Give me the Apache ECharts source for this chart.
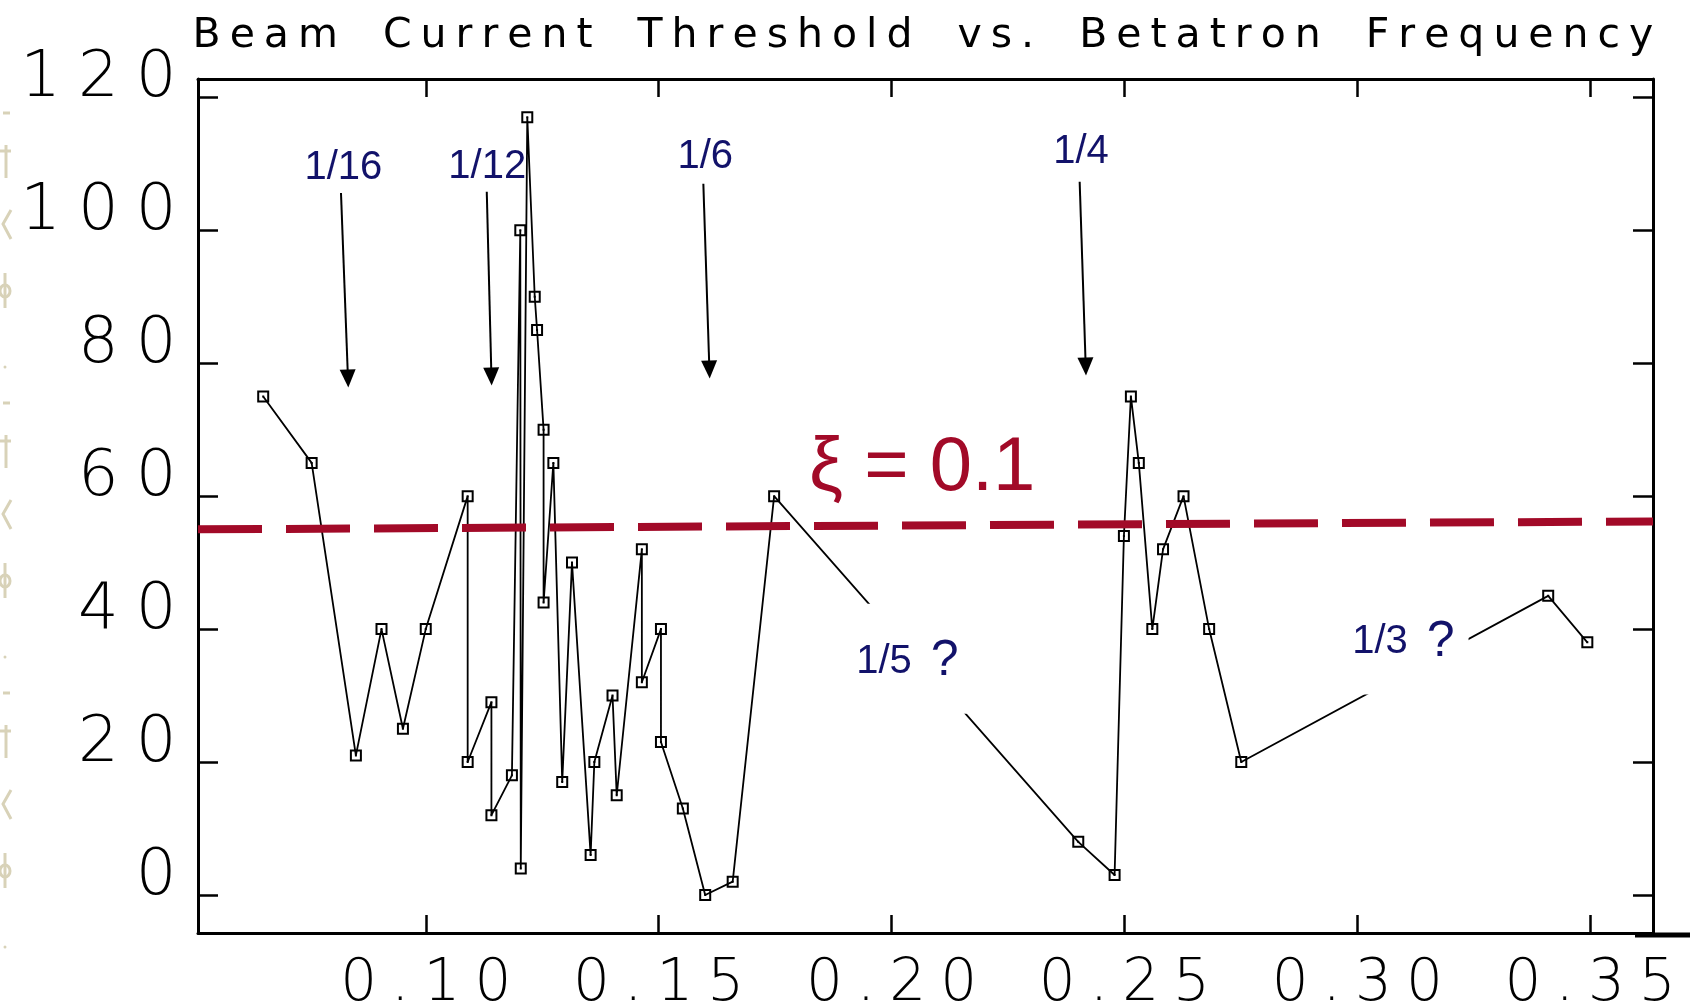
<!DOCTYPE html>
<html>
<head>
<meta charset="utf-8">
<script src="https://cdn.jsdelivr.net/npm/echarts@6/dist/echarts.min.js"></script>
<style>
  html, body { margin: 0; padding: 0; background: #ffffff; }
  #chart { width: 1690px; height: 1008px; }
</style>
</head>
<body>
<div id="chart"></div>
<script>
// Betatron frequency (tune) of each measurement, in scan order
const tune = [
  0.0651, 0.0755, 0.0850, 0.0905, 0.0951, 0.1000, 0.1090, 0.1090, 0.1141, 0.1141,
  0.1185, 0.1203, 0.1204, 0.1218, 0.1234, 0.1239, 0.1253, 0.1253, 0.1274, 0.1293,
  0.1314, 0.1354, 0.1362, 0.1401, 0.1410, 0.1464, 0.1464, 0.1505, 0.1505, 0.1552,
  0.1600, 0.1659, 0.1748, 0.2401, 0.2479, 0.2499, 0.2514, 0.2531, 0.2560, 0.2583,
  0.2627, 0.2682, 0.2751, 0.3410, 0.3494
];
// Beam current threshold measured at each tune
const threshold = [
  75, 65, 21, 40, 25, 40, 60, 20, 29, 12,
  18, 100, 4, 117, 90, 85, 70, 44, 65, 17,
  50, 6, 20, 30, 15, 52, 32, 40, 23, 13,
  0, 2, 60, 8, 3, 54, 75, 65, 40, 52,
  60, 40, 20, 45, 38
];

const xTicks = [0.10, 0.15, 0.20, 0.25, 0.30, 0.35];
const yTicks = [0, 20, 40, 60, 80, 100, 120];
const xRange = [0.0511, 0.3635];
const yRange = [-5.72, 122.75];

const titleText = 'Beam Current Threshold vs. Betatron Frequency';

// resonance labels with their arrows
const resonanceNames = ['1/16', '1/12', '1/6', '1/4'];
const resonanceLabelX = [0.0823, 0.1132, 0.1600, 0.2407];
const resonanceLabelY = [109.4, 109.5, 111.0, 111.8];
const arrowStartX = [0.0818, 0.1131, 0.1596, 0.2404];
const arrowStartY = [105.6, 105.8, 107.0, 107.3];
const arrowEndX = [0.0833, 0.1141, 0.1609, 0.2417];
const arrowEndY = [77.7, 78.0, 79.05, 79.5];

// uncertain resonances, written over the curve
const doubtfulNames = ['1/5', '1/3'];
const doubtfulX = [0.2034, 0.3099];
const doubtfulY = [35.55, 38.45];

// damping threshold line
const dampingText = 'ξ = 0.1';
const dampingLabelAt = [0.2066, 64.14];
const dampingLineY = [55.0, 56.2];

const ink = '#000000';
const navy = '#12126a';
const crimson = '#a20a28';
const beige = '#d8d2b8';
const plotFont = 'DejaVu Sans';
const slideFont = 'Liberation Sans, Arial, sans-serif';

// split a string into fixed-style fragments so the glyphs get extra spacing
function spaced(str, style) {
  return String(str).split('').map(function (ch) {
    return '{' + (ch === ' ' ? style + 'Gap' : style) + '|' + ch + '}';
  }).join('');
}

const squareDot = 'path://M0,0H12V12H0Z M2,2V10H10V2Z M5,5H7V7H5Z';

const points = tune.map(function (t, i) { return [t, threshold[i]]; });

const arrowLines = resonanceNames.map(function (n, i) {
  return [
    { coord: [arrowStartX[i], arrowStartY[i]], symbol: 'none',
      lineStyle: { color: ink, width: 2, type: 'solid' } },
    { coord: [arrowEndX[i], arrowEndY[i]], symbol: 'triangle', symbolSize: [16, 18] }
  ];
});
const dampingLine = [
  { coord: [xRange[0], dampingLineY[0]], symbol: 'none',
    lineStyle: { color: crimson, width: 8, type: [64, 24] } },
  { coord: [xRange[1], dampingLineY[1]], symbol: 'none' }
];

function frameAxis(pos, isX, withLabels) {
  const ticks = isX ? xTicks : yTicks;
  const range = isX ? xRange : yRange;
  const ax = {
    type: 'value',
    position: pos,
    min: range[0],
    max: range[1],
    splitLine: { show: false },
    axisLine: { show: true, onZero: false, lineStyle: { color: ink, width: 3 } },
    axisTick: { show: true, inside: true, length: isX ? 18 : 20, customValues: ticks,
      lineStyle: { color: ink, width: 2.5 } },
    axisLabel: { show: false }
  };
  if (withLabels) {
    ax.axisLabel = isX ? {
      show: true,
      customValues: ticks,
      margin: 23,
      formatter: function (v) { return spaced(v.toFixed(2), 'n'); },
      rich: { n: { fontFamily: plotFont, fontWeight: 200, fontSize: 58, lineHeight: 58,
        color: ink, padding: [0, 7] } }
    } : {
      show: true,
      customValues: ticks,
      margin: 13,
      verticalAlign: 'bottom',
      formatter: function (v) { return spaced(String(v), 'n'); },
      rich: { n: { fontFamily: plotFont, fontWeight: 200, fontSize: 64, lineHeight: 35,
        color: ink, padding: [0, 8.5] } }
    };
  }
  return ax;
}

// faint ornament running down the left edge of the slide
function edgeOrnament() {
  const parts = [];
  const st = { stroke: beige, lineWidth: 3, fill: null };
  for (let base = 110; base < 960; base += 290) {
    parts.push({ type: 'line', silent: true, shape: { x1: 3, y1: base + 3, x2: 10, y2: base + 3 }, style: st });
    parts.push({ type: 'line', silent: true, shape: { x1: 6, y1: base + 35, x2: 6, y2: base + 68 }, style: st });
    parts.push({ type: 'line', silent: true, shape: { x1: 0, y1: base + 41, x2: 11, y2: base + 41 }, style: st });
    parts.push({ type: 'polyline', silent: true,
      shape: { points: [[11, base + 100], [3, base + 114], [11, base + 129]] }, style: st });
    parts.push({ type: 'line', silent: true, shape: { x1: 5, y1: base + 163, x2: 5, y2: base + 198 }, style: st });
    parts.push({ type: 'ellipse', silent: true, shape: { cx: 5, cy: base + 181, rx: 5, ry: 6 }, style: st });
    parts.push({ type: 'circle', silent: true, shape: { cx: 5, cy: base + 257, r: 1.5 },
      style: { fill: beige, stroke: null } });
  }
  return parts;
}

const chart = echarts.init(document.getElementById('chart'), null, { renderer: 'canvas' });

chart.setOption({
  animation: false,
  backgroundColor: '#ffffff',
  title: {
    text: spaced(titleText, 't'),
    left: 183,
    top: 11,
    textStyle: {
      rich: {
        t: { fontFamily: plotFont, fontWeight: 'normal', fontSize: 41, color: ink, padding: [0, 4.5] },
        tGap: { fontFamily: plotFont, fontSize: 41, width: 36 }
      }
    }
  },
  grid: { left: 198, right: 37, top: 79, bottom: 75, containLabel: false, outerBoundsMode: 'none' },
  xAxis: [frameAxis('bottom', true, true), frameAxis('top', true, false)],
  yAxis: [frameAxis('left', false, true), frameAxis('right', false, false)],
  graphic: [{
    type: 'line',
    silent: true,
    shape: { x1: 1635, y1: 935, x2: 1690, y2: 935 },
    style: { stroke: ink, lineWidth: 5 },
    z: 10
  }, {
    type: 'group',
    silent: true,
    children: edgeOrnament()
  }],
  series: [
    {
      name: 'Threshold',
      type: 'line',
      data: points,
      z: 2,
      symbol: squareDot,
      symbolSize: 12,
      showAllSymbol: true,
      itemStyle: { color: ink },
      lineStyle: { color: ink, width: 1.8 },
      markLine: {
        silent: true,
        animation: false,
        label: { show: false },
        data: arrowLines.concat([dampingLine])
      }
    },
    {
      name: 'Resonances',
      type: 'scatter',
      z: 4,
      symbolSize: 0,
      silent: true,
      itemStyle: { opacity: 1 },
      data: resonanceNames.map(function (n, i) {
        return { name: n, value: [resonanceLabelX[i], resonanceLabelY[i]] };
      }),
      label: {
        show: true, position: 'inside', formatter: '{b}',
        color: navy, fontFamily: slideFont, fontSize: 40
      }
    },
    {
      name: 'Uncertain',
      type: 'scatter',
      z: 4,
      symbolSize: 0,
      silent: true,
      itemStyle: { opacity: 1 },
      data: doubtfulNames.map(function (n, i) {
        return { name: n, value: [doubtfulX[i], doubtfulY[i]] };
      }),
      label: {
        show: true, position: 'inside',
        formatter: '{f|{b}}{s| }{q|?}',
        backgroundColor: '#ffffff',
        padding: [33, 14, 27, 14],
        rich: {
          f: { color: navy, fontFamily: slideFont, fontSize: 40 },
          s: { fontSize: 40, width: 19 },
          q: { color: navy, fontFamily: slideFont, fontSize: 50 }
        }
      }
    },
    {
      name: 'Damping',
      type: 'scatter',
      z: 4,
      symbolSize: 0,
      silent: true,
      itemStyle: { opacity: 1 },
      data: [{ name: dampingText, value: dampingLabelAt }],
      label: {
        show: true, position: 'inside', formatter: '{b}',
        color: crimson, fontFamily: slideFont, fontSize: 76
      }
    }
  ]
});
</script>
</body>
</html>
